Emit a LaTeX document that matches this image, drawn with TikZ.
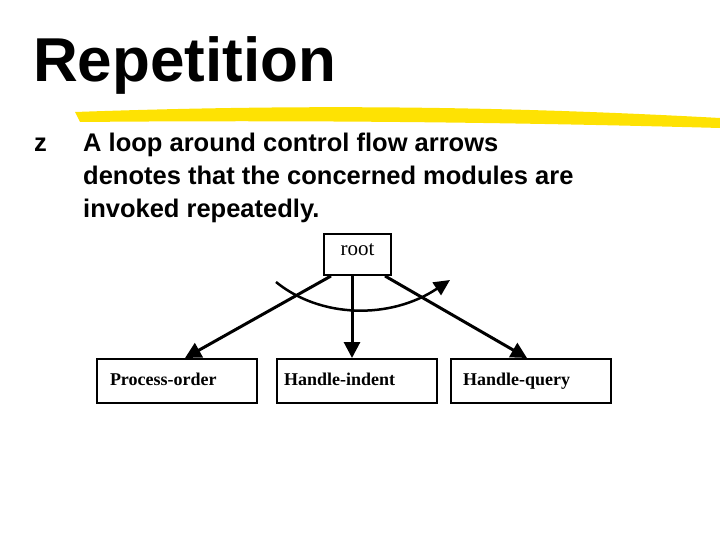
\documentclass[tikz,border=0pt]{standalone}
\usepackage{fontspec}
\setmainfont{Liberation Serif}
\newfontfamily\sans{Liberation Sans}
\usetikzlibrary{arrows.meta}
\begin{document}
\begin{tikzpicture}[x=1pt,y=-1pt,
  box/.style={draw,line width=2pt,minimum height=44pt,text width=150pt,anchor=north west,font=\bfseries\fontsize{18}{18}\selectfont,inner xsep=5pt,inner ysep=0pt,align=left,text height=13pt,text depth=4pt},
  conn/.style={line width=3pt,-{Triangle[length=16pt,width=16pt]}},
  ln/.style={anchor=base west,inner sep=0pt,font=\sans\bfseries\fontsize{25.5}{25.5}\selectfont}]
\useasboundingbox (0,0) rectangle (720,540);
\fill[yellow!85!orange] (75,112) .. controls (300,104) and (500,106) .. (720,118) -- (720,128) .. controls (500,122) and (300,120) .. (80,122) -- cycle;
\node[anchor=base west,inner sep=0pt,font=\sans\bfseries\fontsize{62}{62}\selectfont] (title) at (33,82) {Repetition};
\node[ln] (zb) at (34,152) {z};
\node[ln] (t1) at (83,152) {A loop around control flow arrows};
\node[ln] (t2) at (83,185) {denotes that the concerned modules are};
\node[ln] (t3) at (83,218) {invoked repeatedly.};
\node[draw,line width=2pt,minimum width=67pt,minimum height=41pt,anchor=north west,inner sep=0pt,font=\fontsize{21}{21}\selectfont,text height=15pt,text depth=14pt] (root) at (323,233) {root};
\node[box] (p) at (96,358) {\hspace*{8pt}Process-order};
\node[box] (hi) at (276,358) {\hspace*{2pt}Handle-indent};
\node[box] (hq) at (450,358) {\hspace*{7pt}Handle-query};
\coordinate (r1) at (331,276); \coordinate (r2) at (352,276); \coordinate (r3) at (385,276);
\coordinate (e1) at (185,358); \coordinate (e2) at (352,358); \coordinate (e3) at (527,358);
\draw[conn] (r1) -- (e1);
\draw[conn] (r2) -- (e2);
\draw[conn] (r3) -- (e3);
\coordinate (ls) at (276,282);
\coordinate (le) at (450,280);
\draw[line width=2.5pt,-{Triangle[length=16pt,width=15pt]}] (ls) .. controls (320,318) and (390,320) .. (le);
\end{tikzpicture}
\end{document}
